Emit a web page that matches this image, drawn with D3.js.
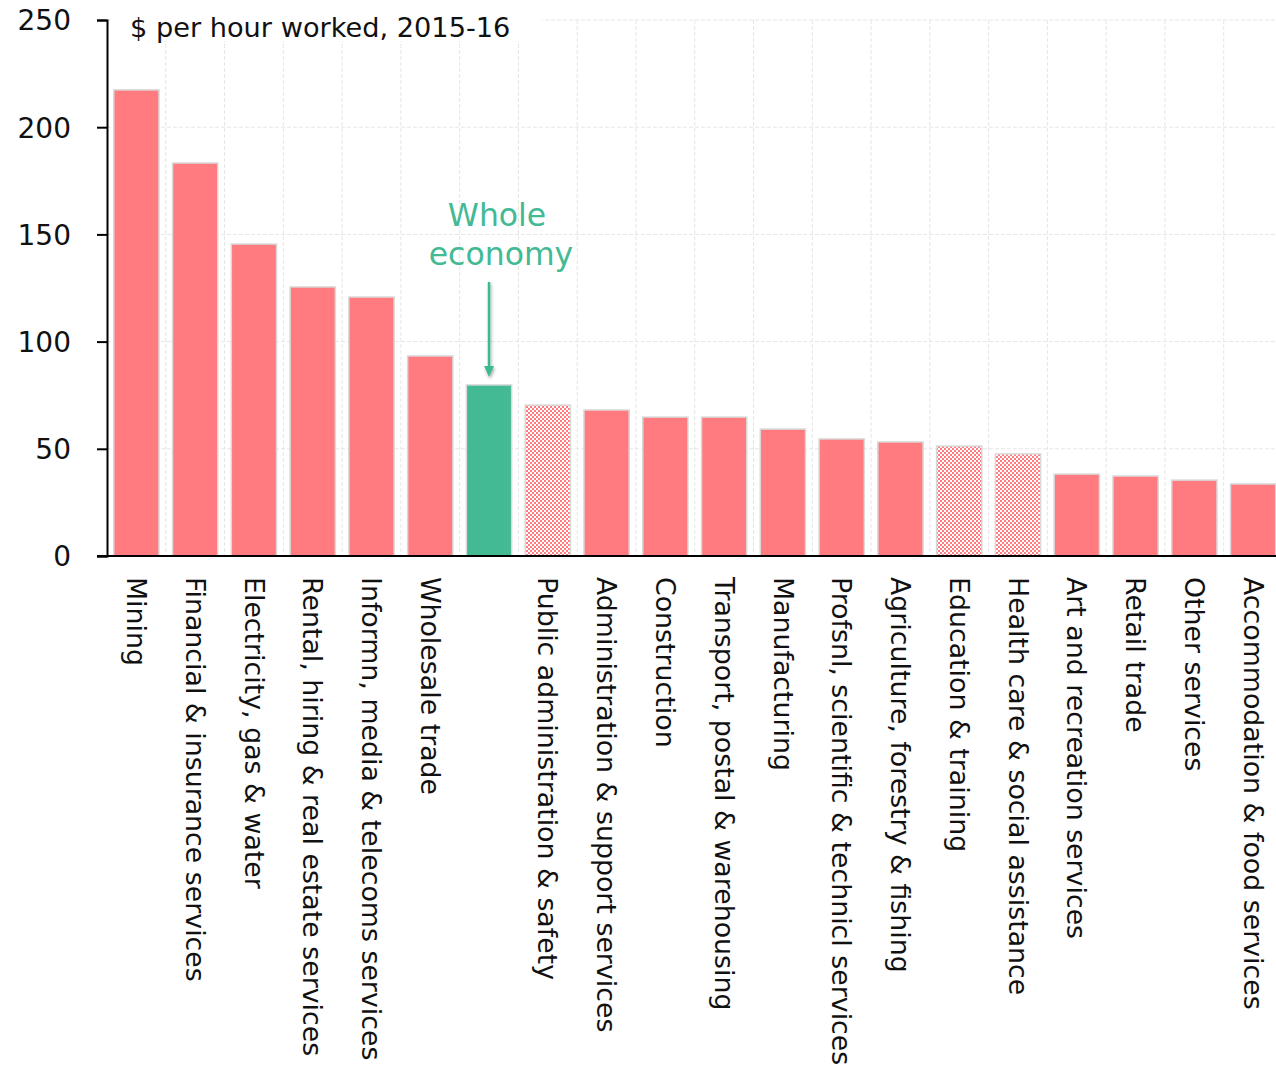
<!DOCTYPE html>
<html><head><meta charset="utf-8">
<script src="https://cdn.jsdelivr.net/npm/d3@7"></script>
<style>
html,body{margin:0;padding:0;background:#fff;}
svg{display:block;}
</style></head>
<body>
<script>
const categories = ["Mining","Financial & insurance services","Electricity, gas & water","Rental, hiring & real estate services","Informn, media & telecoms services","Wholesale trade","Whole economy","Public administration & safety","Administration & support services","Construction","Transport, postal & warehousing","Manufacturing","Profsnl, scientific & technicl services","Agriculture, forestry & fishing","Education & training","Health care & social assistance","Art and recreation services","Retail trade","Other services","Accommodation & food services"];
const values = [217.4,183.3,145.5,125.5,120.8,93.3,79.8,70.4,68.1,64.8,64.8,59.2,54.6,53.2,51.3,47.6,38.2,37.3,35.4,33.6];
const barType = ["normal","normal","normal","normal","normal","normal","economy","hatched","normal","normal","normal","normal","normal","normal","hatched","hatched","normal","normal","normal","normal"];
const xLabels = ["Mining","Financial & insurance services","Electricity, gas & water","Rental, hiring & real estate services","Informn, media & telecoms services","Wholesale trade","","Public administration & safety","Administration & support services","Construction","Transport, postal & warehousing","Manufacturing","Profsnl, scientific & technicl services","Agriculture, forestry & fishing","Education & training","Health care & social assistance","Art and recreation services","Retail trade","Other services","Accommodation & food services"];
const yTicks = [0,50,100,150,200,250];
const title = "$ per hour worked, 2015-16";
const annotation = ["Whole","economy"];

const W = 1276, H = 1070;
const FONT = "'DejaVu Sans', sans-serif";
const PINK = "#ff7b80", GREEN = "#43b994";
const svg = d3.select("body").append("svg").attr("width", W).attr("height", H);

const x = d3.scaleBand().domain(categories).range([107, 1282.5]).paddingInner(0.23).paddingOuter(0.115);
const y = d3.scaleLinear().domain([0, 250]).range([556, 20]);

const defs = svg.append("defs");
const pat = defs.append("pattern").attr("id","check").attr("patternUnits","userSpaceOnUse").attr("width",4).attr("height",4);
pat.append("rect").attr("width",4).attr("height",4).attr("fill","#fff");
pat.append("rect").attr("width",2).attr("height",2).attr("fill",PINK);
pat.append("rect").attr("x",2).attr("y",2).attr("width",2).attr("height",2).attr("fill",PINK);
const filt = defs.append("filter").attr("id","shadow").attr("x","-50%").attr("y","-50%").attr("width","200%").attr("height","200%");
filt.append("feDropShadow").attr("dx",1).attr("dy",2).attr("stdDeviation",1.5).attr("flood-color","#000").attr("flood-opacity",0.35);

// grid
const step = x.step();
const grid = svg.append("g");
grid.selectAll("line.h").data(yTicks.slice(1)).join("line")
  .attr("x1",107).attr("x2",1276).attr("y1",d=>y(d)).attr("y2",d=>y(d))
  .attr("stroke","#e6e6e6").attr("stroke-width",1).attr("stroke-dasharray","4,2");
grid.selectAll("line.v").data(d3.range(1,20)).join("line")
  .attr("x1",d=>x.range()[0]+d*step).attr("x2",d=>x.range()[0]+d*step).attr("y1",y(250)).attr("y2",556)
  .attr("stroke","#e6e6e6").attr("stroke-width",1).attr("stroke-dasharray","4,2");

// bars
svg.append("g").selectAll("rect").data(categories).join("rect")
  .attr("x",d=>x(d)).attr("width",x.bandwidth())
  .attr("y",(d,i)=>y(values[i])).attr("height",(d,i)=>y(0)-y(values[i]))
  .attr("fill",(d,i)=>barType[i]==="economy"?GREEN:barType[i]==="hatched"?"url(#check)":PINK)
  .attr("stroke","#d9d9d9").attr("stroke-width",1.5);

// title background & title
svg.append("rect").attr("x",112).attr("y",0).attr("width",430).attr("height",41).attr("fill","#fff");
svg.append("text").attr("x",130).attr("y",37).attr("font-family",FONT).attr("font-size",27.2).attr("fill","#111").text(title);

// y axis
const yAxis = svg.append("g").attr("transform","translate(107,0)")
  .call(d3.axisLeft(y).tickValues(yTicks).tickSize(10).tickPadding(26));
yAxis.select(".domain").attr("stroke","#000").attr("stroke-width",2);
yAxis.selectAll(".tick line").attr("stroke","#000").attr("stroke-width",2);
yAxis.selectAll(".tick text").attr("font-family",FONT).attr("font-size",28).attr("fill","#111").attr("dy","0.35em");

// x axis line
svg.append("line").attr("x1",97).attr("x2",1276).attr("y1",556).attr("y2",556).attr("stroke","#000").attr("stroke-width",2);

// x labels
svg.append("g").selectAll("text").data(categories).join("text")
  .attr("transform",(d)=>`translate(${x(d)+x.bandwidth()/2},577) rotate(90)`)
  .attr("dy","0.35em").attr("font-family",FONT).attr("font-size",26.8).attr("fill","#111")
  .text((d,i)=>xLabels[i]);

// annotation
const ex = x("Whole economy")+x.bandwidth()/2;
svg.append("g").selectAll("text").data(annotation).join("text")
  .attr("x",(d,i)=>i===0?497:501).attr("y",(d,i)=>226+i*39)
  .attr("text-anchor","middle").attr("font-family",FONT).attr("font-size",31.5).attr("fill",GREEN)
  .text(d=>d);
const arr = svg.append("g").attr("filter","url(#shadow)");
arr.append("line").attr("x1",ex).attr("x2",ex).attr("y1",282).attr("y2",368).attr("stroke","#3db98f").attr("stroke-width",2.5);
arr.append("path").attr("d",`M${ex-5},366 L${ex+5},366 L${ex},377 Z`).attr("fill","#3db98f");
</script>
</body></html>
